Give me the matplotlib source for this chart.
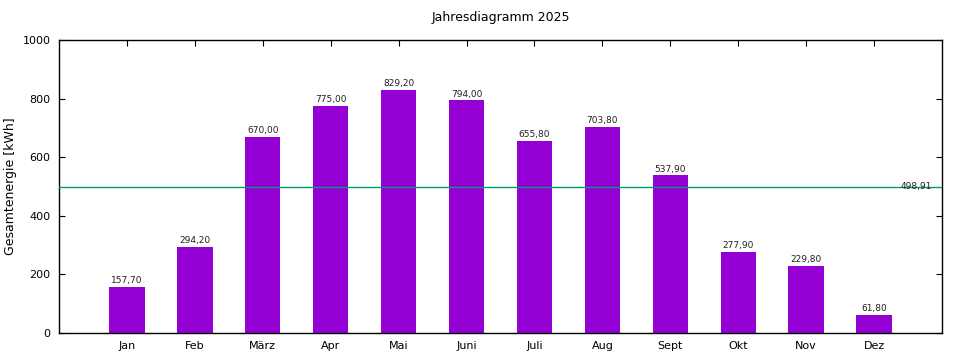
import numpy as np
import matplotlib
matplotlib.use("Agg")
import matplotlib.pyplot as plt

# monthly energy values
months = ["Jan", "Feb", "März", "Apr", "Mai", "Juni", "Juli", "Aug", "Sept", "Okt", "Nov", "Dez"]
energy = [157.70, 294.20, 670.00, 775.00, 829.20, 794.00, 655.80, 703.80, 537.90, 277.90, 229.80, 61.80]
average = 498.91
y_ticks = [0, 200, 400, 600, 800, 1000]

fig = plt.figure(figsize=(9.6, 3.6), dpi=100)
ax = fig.add_axes([59/960, 1 - 333/360, (942-59)/960, (333-40)/360])

x = np.arange(1, len(months) + 1)
ax.bar(x, energy, width=0.52, color="#9400d3", zorder=2)
for xi, v in zip(x, energy):
    ax.text(xi, v + 6, f"{v:.2f}".replace(".", ","), ha="center", va="bottom",
            fontsize=6.5, color="#222222")

ax.axhline(average, color="#009e73", linewidth=1, zorder=3)
ax.text(12.85, average, f"{average:.2f}".replace(".", ","), ha="right", va="center",
        fontsize=6.5, color="#222222", zorder=4)

ax.set_xlim(0, 13)
ax.set_ylim(0, 1000)
ax.set_xticks(x)
ax.set_xticklabels(months)
ax.set_yticks(y_ticks)
ax.tick_params(direction="in", top=True, right=True, labelsize=8, length=4, pad=6)
for s in ax.spines.values():
    s.set_linewidth(1)
ax.set_ylabel("Gesamtenergie [kWh]", fontsize=9)
ax.set_title("Jahresdiagramm 2025", fontsize=9, pad=14)

fig.savefig("out.png", dpi=100)
